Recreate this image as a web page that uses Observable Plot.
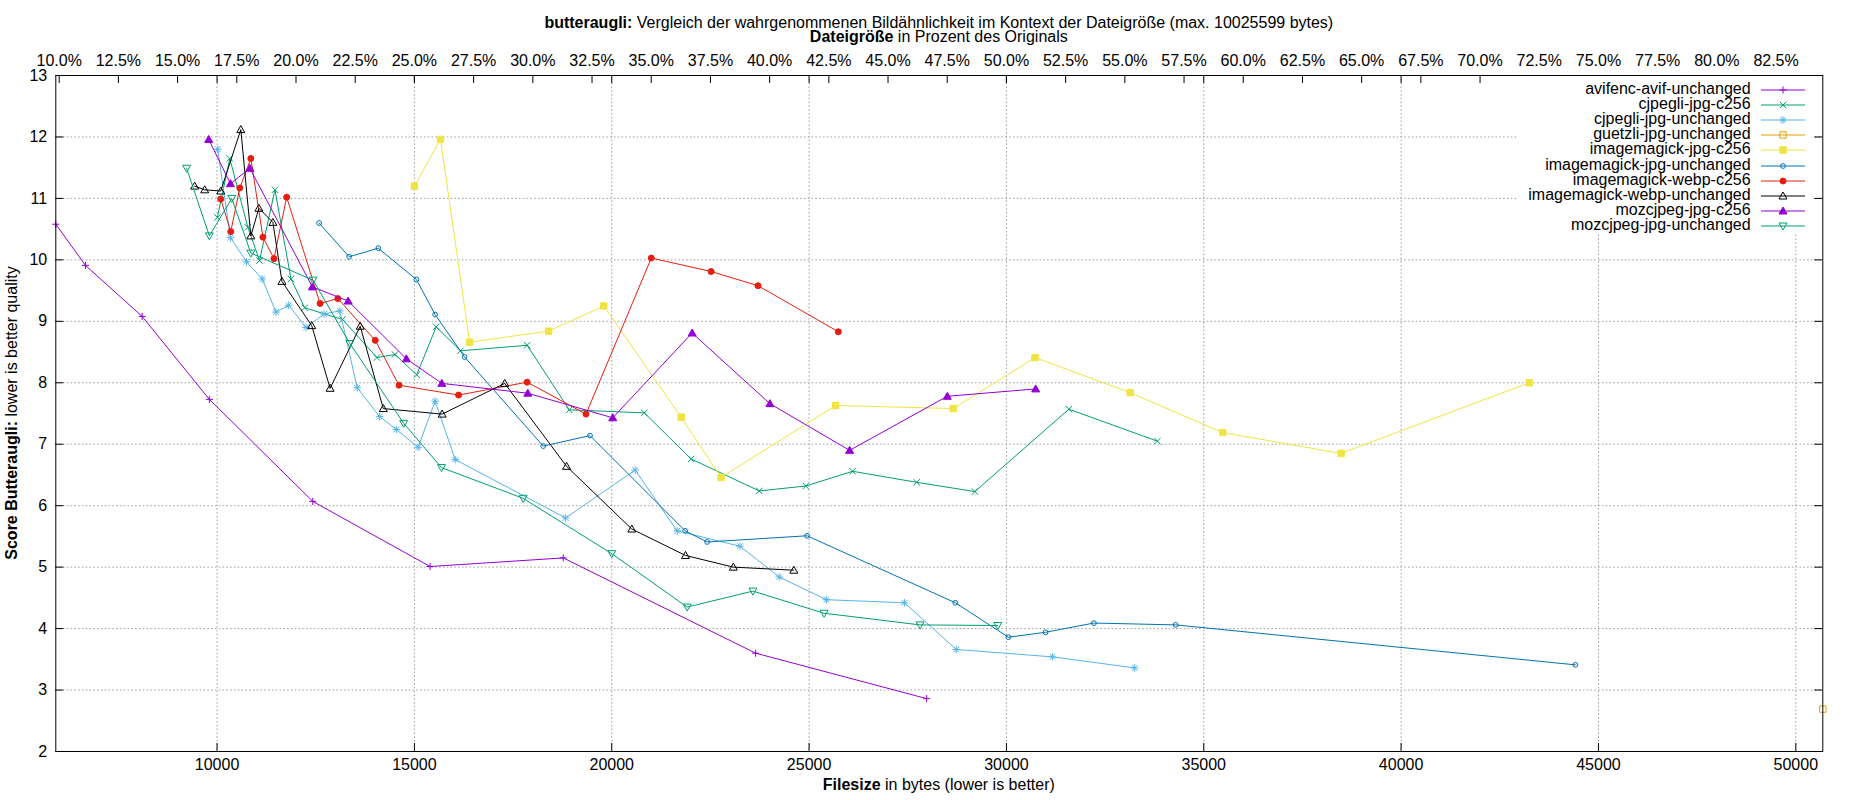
<!DOCTYPE html>
<html>
<head>
<meta charset="utf-8">
<script src="https://cdn.jsdelivr.net/npm/d3@7"></script>
<script src="https://cdn.jsdelivr.net/npm/@observablehq/plot@0.6"></script>
<style>
html, body { margin: 0; padding: 0; background: #fff; }
#wrap { position: relative; width: 1850px; height: 800px; overflow: hidden;
  font-family: "Liberation Sans", Arial, sans-serif; font-size: 16px; color: #000; }
.t { position: absolute; white-space: nowrap; line-height: 16px; }
#legend { position: absolute; left: 1517px; top: 76px; width: 295px; height: 157px; background: #fff; }
#legend .row { position: absolute; white-space: nowrap; line-height: 16px; text-align: right; }
#legend svg { position: absolute; overflow: visible; }
</style>
</head>
<body>
<div id="wrap">
  <div class="t" style="left:55.3px;width:1767px;text-align:center;top:14.8px"><b>butteraugli:</b> Vergleich der wahrgenommenen Bildähnlichkeit im Kontext der Dateigröße (max. 10025599 bytes)</div>
  <div class="t" style="left:55.3px;width:1767px;text-align:center;top:29px"><b>Dateigröße</b> in Prozent des Originals</div>
  <div class="t" style="left:12px;top:413px;transform:translate(-50%,-50%) rotate(-90deg)"><b>Score Butteraugli:</b> lower is better quality</div>
  <div class="t" style="left:55.3px;width:1767px;text-align:center;top:776.5px"><b>Filesize</b> in bytes (lower is better)</div>
  <div id="legend"></div>
</div>
<script>
// ---------- data ----------
const seriesNames = [
  "avifenc-avif-unchanged", "cjpegli-jpg-c256", "cjpegli-jpg-unchanged", "guetzli-jpg-unchanged",
  "imagemagick-jpg-c256", "imagemagick-jpg-unchanged", "imagemagick-webp-c256",
  "imagemagick-webp-unchanged", "mozcjpeg-jpg-c256", "mozcjpeg-jpg-unchanged"
];

const avifSize  = [5914, 6666, 8101, 9805, 12424, 15398, 18771, 23645, 27980];
const avifScore = [10.58, 9.91, 9.08, 7.73, 6.07, 5.01, 5.15, 3.60, 2.86];

const cjpegliC256Size  = [10008, 10322, 10780, 11076, 11466, 11873, 12220, 13178, 14051, 14508, 15059, 15551, 16169, 17856, 18924, 20825, 22012, 23737, 24916, 26103, 27727, 29200, 31582, 33824];
const cjpegliC256Score = [10.69, 11.65, 10.53, 9.99, 11.14, 9.69, 9.22, 9.03, 8.41, 8.46, 8.13, 8.91, 8.52, 8.61, 7.56, 7.51, 6.76, 6.24, 6.32, 6.56, 6.38, 6.23, 7.57, 7.05];

const cjpegliUnchSize  = [10017, 10339, 10746, 11144, 11492, 11814, 12254, 12712, 13110, 13551, 14119, 14542, 15093, 15525, 16034, 18831, 20593, 21658, 23249, 24242, 25438, 27416, 28729, 31168, 33250];
const cjpegliUnchScore = [11.80, 10.36, 9.97, 9.69, 9.15, 9.26, 8.90, 9.12, 9.17, 7.92, 7.45, 7.24, 6.95, 7.70, 6.75, 5.80, 6.58, 5.59, 5.34, 4.84, 4.47, 4.42, 3.66, 3.54, 3.36];

const guetzliSize  = [50684];
const guetzliScore = [2.69];

const imJpgC256Size  = [15000, 15661, 16398, 18400, 19798, 21759, 22770, 25673, 28653, 30724, 33134, 35479, 38479, 43244];
const imJpgC256Score = [11.20, 11.96, 8.66, 8.84, 9.25, 7.44, 6.46, 7.63, 7.58, 8.41, 7.84, 7.19, 6.85, 8.00];

const imJpgUnchSize  = [12585, 13347, 14085, 15051, 15525, 16271, 18263, 19449, 21860, 22416, 24949, 28704, 30051, 30990, 32216, 34289, 44416];
const imJpgUnchScore = [10.60, 10.05, 10.19, 9.68, 9.11, 8.42, 6.97, 7.14, 5.59, 5.41, 5.51, 4.42, 3.86, 3.94, 4.09, 4.06, 3.41];

const imWebpC256Size  = [10093, 10347, 10576, 10856, 11161, 11441, 11763, 12610, 13059, 14008, 14610, 16119, 17856, 19347, 21002, 22517, 23704, 25741];
const imWebpC256Score = [10.99, 10.46, 11.17, 11.65, 10.37, 10.02, 11.02, 9.29, 9.37, 8.69, 7.96, 7.80, 8.01, 7.49, 10.03, 9.81, 9.58, 8.83];

const imWebpUnchSize  = [9432, 9686, 10093, 10602, 10856, 11059, 11415, 11644, 12398, 12864, 13627, 14212, 15703, 17288, 18856, 20508, 21869, 23081, 24613];
const imWebpUnchScore = [11.20, 11.14, 11.12, 12.12, 10.39, 10.84, 10.61, 9.65, 8.93, 7.91, 8.92, 7.58, 7.49, 7.99, 6.64, 5.62, 5.19, 5.00, 4.95];

const mozC256Size  = [9788, 10339, 10831, 12415, 13322, 14797, 15695, 17873, 20025, 22037, 24007, 26027, 28502, 30741];
const mozC256Score = [11.96, 11.24, 11.49, 9.56, 9.33, 8.39, 7.99, 7.83, 7.43, 8.81, 7.66, 6.90, 7.78, 7.90];

const mozUnchSize  = [9229, 9805, 10373, 10856, 12432, 13364, 14729, 15686, 17754, 20000, 21911, 23577, 25379, 27811, 29781];
const mozUnchScore = [11.49, 10.39, 11.00, 10.11, 9.67, 8.64, 7.34, 6.62, 6.12, 5.22, 4.35, 4.61, 4.25, 4.06, 4.05];

const xTicks = [10000, 15000, 20000, 25000, 30000, 35000, 40000, 45000, 50000];
const yTicks = [2, 3, 4, 5, 6, 7, 8, 9, 10, 11, 12, 13];
const pctTicks = [10, 12.5, 15, 17.5, 20, 22.5, 25, 27.5, 30, 32.5, 35, 37.5, 40, 42.5, 45, 47.5, 50, 52.5, 55, 57.5, 60, 62.5, 65, 67.5, 70, 72.5, 75, 77.5, 80, 82.5];
const originalBytes = 60000;
const xDomain = [5914, 50684];
const yDomain = [2, 13];

const sizes  = [avifSize, cjpegliC256Size, cjpegliUnchSize, guetzliSize, imJpgC256Size, imJpgUnchSize, imWebpC256Size, imWebpUnchSize, mozC256Size, mozUnchSize];
const scores = [avifScore, cjpegliC256Score, cjpegliUnchScore, guetzliScore, imJpgC256Score, imJpgUnchScore, imWebpC256Score, imWebpUnchScore, mozC256Score, mozUnchScore];

// ---------- styles ----------
const SYM = {
  plus: {draw(c, s) { const r = Math.sqrt(s / Math.PI); c.moveTo(-r, 0); c.lineTo(r, 0); c.moveTo(0, -r); c.lineTo(0, r); }},
  cross: {draw(c, s) { const r = Math.sqrt(s / Math.PI); c.moveTo(-r, -r); c.lineTo(r, r); c.moveTo(-r, r); c.lineTo(r, -r); }},
  star: {draw(c, s) { const r = Math.sqrt(s / Math.PI), q = r * 0.75;
    c.moveTo(-r, 0); c.lineTo(r, 0); c.moveTo(0, -r); c.lineTo(0, r);
    c.moveTo(-q, -q); c.lineTo(q, q); c.moveTo(-q, q); c.lineTo(q, -q); }},
  square: {draw(c, s) { const r = Math.sqrt(s / Math.PI); c.moveTo(-r, -r); c.lineTo(r, -r); c.lineTo(r, r); c.lineTo(-r, r); c.closePath(); }},
  circle: {draw(c, s) { const r = Math.sqrt(s / Math.PI); c.moveTo(r, 0); c.arc(0, 0, r, 0, 2 * Math.PI); }},
  triUp: {draw(c, s) { const r = Math.sqrt(s / Math.PI); c.moveTo(0, -r); c.lineTo(r, r * 0.75); c.lineTo(-r, r * 0.75); c.closePath(); }},
  triDown: {draw(c, s) { const r = Math.sqrt(s / Math.PI); c.moveTo(0, r); c.lineTo(r, -r * 0.75); c.lineTo(-r, -r * 0.75); c.closePath(); }}
};
const styles = [
  {color: "#9400d3", sym: "plus",    r: 3.6, filled: false},
  {color: "#009e73", sym: "cross",   r: 3.2, filled: false},
  {color: "#56b4e9", sym: "star",    r: 3.8, filled: false},
  {color: "#e69f00", sym: "square",  r: 3.2, filled: false},
  {color: "#f0e442", sym: "square",  r: 3.2, filled: true},
  {color: "#0072b2", sym: "circle",  r: 2.4, filled: false},
  {color: "#e51e10", sym: "circle",  r: 3.0, filled: true},
  {color: "#000000", sym: "triUp",   r: 4.0, filled: false},
  {color: "#9400d3", sym: "triUp",   r: 4.0, filled: true},
  {color: "#009e73", sym: "triDown", r: 4.0, filled: false}
];

// ---------- chart ----------
const W = 1850, H = 730, mL = 55.3, mR = 27.7, mT = 30, mB = 24;
const innerW = W - mL - mR, innerH = H - mT - mB;
const gridStyle = {stroke: "#a0a0a0", strokeOpacity: 1, strokeWidth: 1, strokeDasharray: "1.6,2.2"};
const pctBytes = pctTicks.map(p => p * originalBytes / 100);

const marks = [
  Plot.gridY(yTicks.slice(1, -1), gridStyle),
  Plot.gridX(xTicks, gridStyle)
];
seriesNames.forEach((name, k) => {
  const st = styles[k];
  const pts = sizes[k].map((x, i) => ({x, y: scores[k][i]}));
  if (pts.length > 1) marks.push(Plot.line(pts, {x: "x", y: "y", stroke: st.color, strokeWidth: 1}));
  marks.push(Plot.dot(pts, {
    x: "x", y: "y", r: st.r, symbol: SYM[st.sym],
    fill: st.filled ? st.color : "none", stroke: st.color, strokeWidth: 1
  }));
});
marks.push(
  Plot.frame({stroke: "black", strokeWidth: 1}),
  Plot.ruleX(xTicks, {x: d => d, insetTop: innerH - 8, stroke: "black"}),
  Plot.ruleX(xTicks, {x: d => d, insetBottom: innerH - 8, stroke: "black"}),
  Plot.ruleX(pctBytes, {x: d => d, insetBottom: innerH - 8, stroke: "black"}),
  Plot.ruleY(yTicks, {y: d => d, insetRight: innerW - 8, stroke: "black"}),
  Plot.ruleY(yTicks, {y: d => d, insetLeft: innerW - 8, stroke: "black"}),
  Plot.axisX(xTicks, {anchor: "bottom", tickSize: 0, tickPadding: 7, tickFormat: d3.format("d"), label: null}),
  Plot.axisX(pctBytes, {anchor: "top", tickSize: 0, tickPadding: 10, tickFormat: d => d3.format(".1f")(d / originalBytes * 100) + "%", label: null}),
  Plot.axisY(yTicks, {anchor: "left", tickSize: 0, tickPadding: 8.6, tickFormat: d3.format("d"), label: null})
);

const svg = Plot.plot({
  width: W, height: H,
  marginLeft: mL, marginRight: mR, marginTop: mT, marginBottom: mB,
  x: {type: "linear", domain: xDomain},
  y: {type: "linear", domain: yDomain},
  style: {fontFamily: "'Liberation Sans', Arial, sans-serif", fontSize: "16px", color: "black", background: "transparent", overflow: "visible"},
  marks
});
svg.style.position = "absolute";
svg.style.left = "0px";
svg.style.top = "45px";
const wrap = document.getElementById("wrap");
wrap.insertBefore(svg, document.getElementById("legend"));

// ---------- legend ----------
const legend = d3.select("#legend");
const boxLeft = 1517, boxTop = 76, boxW = 295;
seriesNames.forEach((name, k) => {
  const st = styles[k];
  const cy = 90 + 15.1 * k - boxTop;
  legend.append("div").attr("class", "row")
    .style("right", (boxLeft + boxW - 1750.6) + "px")
    .style("top", (cy - 9) + "px")
    .text(name);
  const s = legend.append("svg")
    .attr("width", 44).attr("height", 14)
    .style("left", (1761 - boxLeft) + "px")
    .style("top", (cy - 7) + "px");
  s.append("line").attr("x1", 0).attr("x2", 44).attr("y1", 7).attr("y2", 7)
    .attr("stroke", st.color).attr("stroke-width", 1.2);
  const p = d3.path();
  SYM[st.sym].draw(p, st.r * st.r * Math.PI);
  s.append("path").attr("d", p.toString()).attr("transform", "translate(22,7)")
    .attr("fill", st.filled ? st.color : "none").attr("stroke", st.color).attr("stroke-width", 1);
});
</script>
</body>
</html>
